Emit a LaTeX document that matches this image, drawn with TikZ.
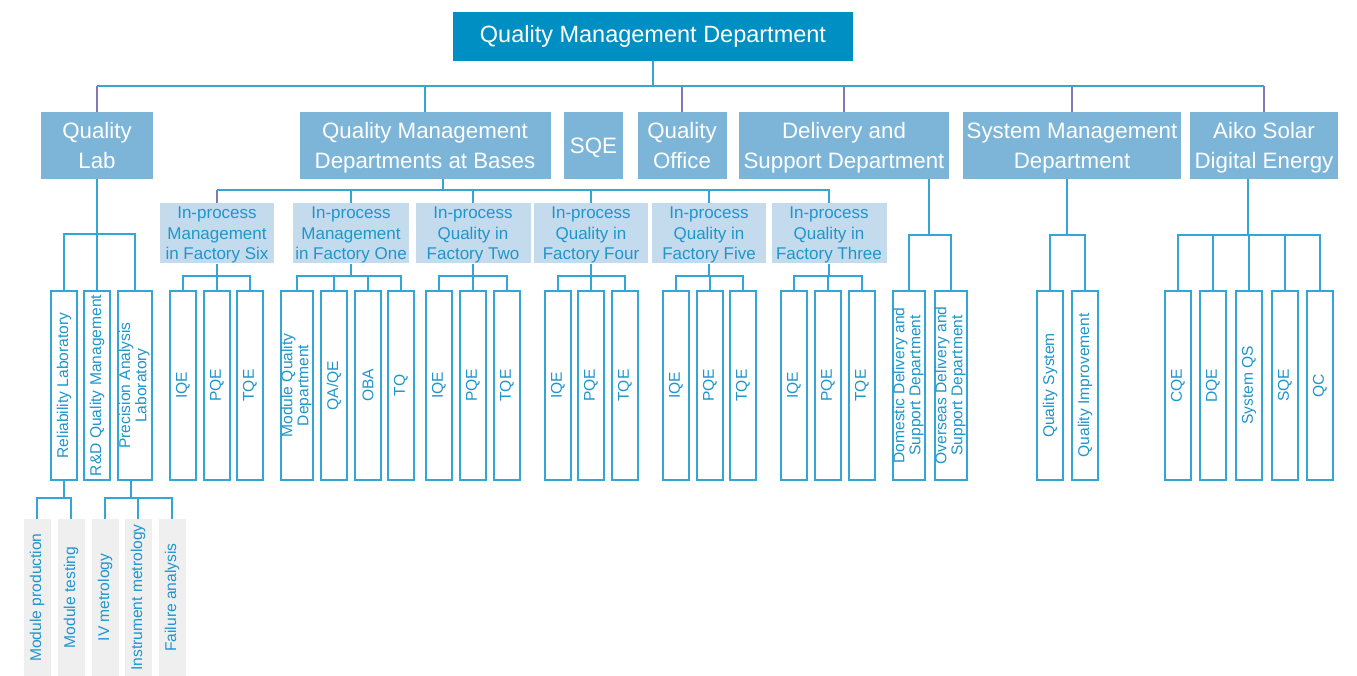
\documentclass[tikz,border=0pt]{standalone}
\usepackage{fontspec}
\setmainfont{Liberation Sans}
\usepackage{graphicx}
\definecolor{topfill}{RGB}{0,143,194}
\definecolor{lvtwo}{RGB}{125,181,216}
\definecolor{lvthree}{RGB}{196,219,237}
\definecolor{bluetext}{RGB}{30,150,204}
\definecolor{linec}{RGB}{52,166,214}
\definecolor{purp}{RGB}{128,120,184}
\definecolor{grayfill}{RGB}{239,239,239}
\tikzset{
  topbox/.style={fill=topfill, text=white, minimum width=400pt, minimum height=49pt, inner sep=0pt, font=\fontsize{23.5}{28}\selectfont},
  twobox/.style={fill=lvtwo, text=white, minimum height=67pt, inner sep=0pt, text depth=0pt, align=center, font=\fontsize{22.3}{30}\selectfont},
  threebox/.style={fill=lvthree, text=bluetext, minimum height=60.5pt, inner sep=0pt, text depth=0pt, align=center, font=\fontsize{17}{20.7}\selectfont},
  vbox/.style={draw=linec, line width=1.8pt, fill=white, text=bluetext, minimum height=189.2pt, minimum width=25.3pt, inner sep=0pt, font=\fontsize{15.6}{16}\selectfont},
  gbox/.style={fill=grayfill, text=bluetext, minimum height=157pt, minimum width=27pt, inner sep=0pt, font=\fontsize{15.6}{16}\selectfont},
  conn/.style={draw=linec, line width=2pt, line join=miter},
  pconn/.style={draw=purp, line width=2pt},
}
\newcommand{\vt}[1]{\rotatebox{90}{#1}}
\newcommand{\vtt}[2]{\rotatebox{90}{\begin{tabular}{@{}c@{}}#1\\#2\end{tabular}}}
\begin{document}
\begin{tikzpicture}[x=1pt,y=-1pt]
\path[use as bounding box] (0,0) rectangle (1357,676);
% top
\node[topbox] (top) at (653,36.5) {Quality Management Department};
% level 2
\node[twobox, minimum width=112pt] (lab) at (97,145.5) {Quality\\Lab};
\node[twobox, minimum width=251pt] (qmd) at (425,145.5) {Quality Management\\Departments at Bases};
\node[twobox, minimum width=59pt] (sqe) at (593.5,145.5) {SQE};
\node[twobox, minimum width=89pt] (qo) at (682,145.5) {Quality\\Office};
\node[twobox, minimum width=210pt] (del) at (844,145.5) {Delivery and\\Support Department};
\node[twobox, minimum width=218pt] (sys) at (1072,145.5) {System Management\\Department};
\node[twobox, minimum width=148pt] (aiko) at (1264,145.5) {Aiko Solar\\Digital Energy};
% level 3
\node[threebox, minimum width=114pt] (f6) at (217,233.25) {In-process\\Management\\in Factory Six};
\node[threebox, minimum width=116pt] (f1) at (351,233.25) {In-process\\Management\\in Factory One};
\node[threebox, minimum width=115pt] (f2) at (473,233.25) {In-process\\Quality in\\Factory Two};
\node[threebox, minimum width=114pt] (f4) at (591,233.25) {In-process\\Quality in\\Factory Four};
\node[threebox, minimum width=114pt] (f5) at (709,233.25) {In-process\\Quality in\\Factory Five};
\node[threebox, minimum width=115pt] (f3) at (829,233.25) {In-process\\Quality in\\Factory Three};
% level 4
\node[vbox] (rel) at (64,385.5) {\vt{Reliability Laboratory}};
\node[vbox] (rnd) at (97,385.5) {\vt{R\&D Quality Management}};
\node[vbox, minimum width=33.5pt] (pal) at (135,385.5) {\vtt{Precision Analysis}{Laboratory}};
\node[vbox] (f6iqe) at (183,385.5) {\vt{IQE}};
\node[vbox] (f6pqe) at (217,385.5) {\vt{PQE}};
\node[vbox] (f6tqe) at (250,385.5) {\vt{TQE}};
\node[vbox, minimum width=30.5pt] (f1mqd) at (297,385.5) {\vtt{Module Quality}{Department}};
\node[vbox] (f1qa) at (334,385.5) {\vt{QA/QE}};
\node[vbox] (f1oba) at (368,385.5) {\vt{OBA}};
\node[vbox] (f1tq) at (401,385.5) {\vt{TQ}};
\node[vbox] (f2iqe) at (439,385.5) {\vt{IQE}};
\node[vbox] (f2pqe) at (473,385.5) {\vt{PQE}};
\node[vbox] (f2tqe) at (507,385.5) {\vt{TQE}};
\node[vbox] (f4iqe) at (558,385.5) {\vt{IQE}};
\node[vbox] (f4pqe) at (591,385.5) {\vt{PQE}};
\node[vbox] (f4tqe) at (625,385.5) {\vt{TQE}};
\node[vbox] (f5iqe) at (676,385.5) {\vt{IQE}};
\node[vbox] (f5pqe) at (710,385.5) {\vt{PQE}};
\node[vbox] (f5tqe) at (743,385.5) {\vt{TQE}};
\node[vbox] (f3iqe) at (794,385.5) {\vt{IQE}};
\node[vbox] (f3pqe) at (828,385.5) {\vt{PQE}};
\node[vbox] (f3tqe) at (862,385.5) {\vt{TQE}};
\node[vbox, minimum width=30.9pt] (dom) at (909,385.5) {\vtt{Domestic Delivery and}{Support Department}};
\node[vbox, minimum width=30.9pt] (ovs) at (951,385.5) {\vtt{Overseas Delivery and}{Support Department}};
\node[vbox] (qs) at (1050,385.5) {\vt{Quality System}};
\node[vbox] (qi) at (1085,385.5) {\vt{Quality Improvement}};
\node[vbox] (cqe) at (1178,385.5) {\vt{CQE}};
\node[vbox] (dqe) at (1213,385.5) {\vt{DQE}};
\node[vbox] (sqs) at (1249,385.5) {\vt{System QS}};
\node[vbox] (asqe) at (1285,385.5) {\vt{SQE}};
\node[vbox] (qc) at (1320,385.5) {\vt{QC}};
% level 5
\node[gbox] (mp) at (37,597.5) {\vt{Module production}};
\node[gbox] (mt) at (71,597.5) {\vt{Module testing}};
\node[gbox] (iv) at (105,597.5) {\vt{IV metrology}};
\node[gbox] (im) at (138,597.5) {\vt{Instrument metrology}};
\node[gbox] (fa) at (172,597.5) {\vt{Failure analysis}};
% bus coordinates
\coordinate (b0) at (653,86);
\coordinate (blab) at (97,234);
\coordinate (brel) at (64,498);
\coordinate (bpal) at (131,498);
\coordinate (bqmd) at (443,190);
\coordinate (bf6) at (217,276);
\coordinate (bf1) at (351,276);
\coordinate (bf2) at (473,276);
\coordinate (bf4) at (591,276);
\coordinate (bf5) at (709,276);
\coordinate (bf3) at (829,276);
\coordinate (bdel) at (929,235);
\coordinate (bsys) at (1067,235);
\coordinate (baiko) at (1248,235);
% connectors: top
\draw[conn] (top.south) -- (b0);
\draw[conn] (qmd.north) -- (qmd.north |- b0) -- (b0);
\foreach \c in {lab,qo,del,sys,aiko} {
  \draw[pconn] (\c.north) -- (\c.north |- b0);
  \draw[conn] (\c.north |- b0) -- (b0);
}
% quality lab
\draw[conn] (lab.south) -- (blab);
\foreach \c in {rel,rnd,pal} \draw[conn] (\c.north) -- (\c.north |- blab) -- (blab);
\draw[conn] (rel.south -| brel) -- (brel);
\foreach \c in {mp,mt} \draw[conn] (\c.north) -- (\c.north |- brel) -- (brel);
\draw[conn] (pal.south -| bpal) -- (bpal);
\foreach \c in {iv,im,fa} \draw[conn] (\c.north) -- (\c.north |- bpal) -- (bpal);
% bases
\draw[conn] (qmd.south -| bqmd) -- (bqmd);
\draw[pconn] (f6.north) -- (f6.north |- bqmd);
\draw[conn] (f6.north |- bqmd) -- (bqmd);
\foreach \c in {f1,f2,f4,f5,f3} \draw[conn] (\c.north) -- (\c.north |- bqmd) -- (bqmd);
\draw[conn] (f6.south) -- (bf6);
\foreach \c in {f6iqe,f6pqe,f6tqe} \draw[conn] (\c.north) -- (\c.north |- bf6) -- (bf6);
\draw[conn] (f1.south) -- (bf1);
\foreach \c in {f1mqd,f1qa,f1oba,f1tq} \draw[conn] (\c.north) -- (\c.north |- bf1) -- (bf1);
\draw[conn] (f2.south) -- (bf2);
\foreach \c in {f2iqe,f2pqe,f2tqe} \draw[conn] (\c.north) -- (\c.north |- bf2) -- (bf2);
\draw[conn] (f4.south) -- (bf4);
\foreach \c in {f4iqe,f4pqe,f4tqe} \draw[conn] (\c.north) -- (\c.north |- bf4) -- (bf4);
\draw[conn] (f5.south) -- (bf5);
\foreach \c in {f5iqe,f5pqe,f5tqe} \draw[conn] (\c.north) -- (\c.north |- bf5) -- (bf5);
\draw[conn] (f3.south) -- (bf3);
\foreach \c in {f3iqe,f3pqe,f3tqe} \draw[conn] (\c.north) -- (\c.north |- bf3) -- (bf3);
% delivery
\draw[conn] (del.south -| bdel) -- (bdel);
\foreach \c in {dom,ovs} \draw[conn] (\c.north) -- (\c.north |- bdel) -- (bdel);
% system
\draw[conn] (sys.south -| bsys) -- (bsys);
\foreach \c in {qs,qi} \draw[conn] (\c.north) -- (\c.north |- bsys) -- (bsys);
% aiko
\draw[conn] (aiko.south -| baiko) -- (baiko);
\foreach \c in {cqe,dqe,sqs,asqe,qc} \draw[conn] (\c.north) -- (\c.north |- baiko) -- (baiko);
\end{tikzpicture}
\end{document}
